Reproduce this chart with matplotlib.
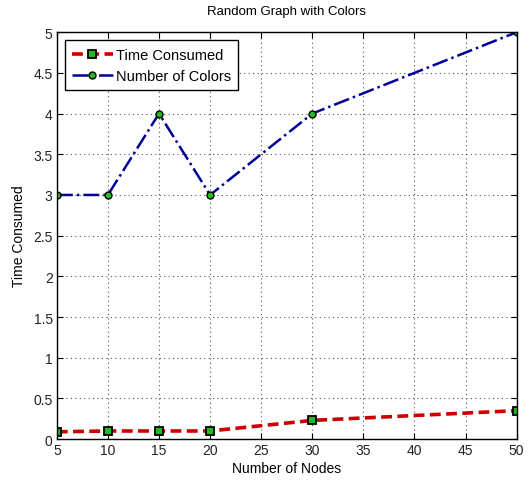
import matplotlib
matplotlib.use("Agg")
import matplotlib.pyplot as plt

nodes = [5, 10, 15, 20, 30, 50]
time_consumed = [0.09, 0.10, 0.10, 0.10, 0.23, 0.35]
num_colors = [3, 3, 4, 3, 4, 5]
xticks = [5, 10, 15, 20, 25, 30, 35, 40, 45, 50]
yticks = [0, 0.5, 1, 1.5, 2, 2.5, 3, 3.5, 4, 4.5, 5]
ytick_labels = ['0', '0.5', '1', '1.5', '2', '2.5', '3', '3.5', '4', '4.5', '5']

plt.rcParams['font.family'] = ['Liberation Sans', 'DejaVu Sans']
fig = plt.figure(figsize=(5.31, 4.81), dpi=100)
ax = fig.add_axes([0.107, 0.085, 0.866, 0.846])

ax.plot(nodes, time_consumed, color='#cc0000', linestyle='--', linewidth=2.6,
        marker='s', markersize=6, markerfacecolor='#22bb22', markeredgecolor='black',
        markeredgewidth=1.3, label='Time Consumed', dashes=(3, 1.5))
ax.plot(nodes, num_colors, color='#000099', linestyle='-.', linewidth=1.8,
        marker='o', markersize=5, markerfacecolor='#22bb22', markeredgecolor='black',
        markeredgewidth=1.0, label='Number of Colors')

ax.set_xlim(5, 50)
ax.set_ylim(0, 5)
ax.set_xticks(xticks)
ax.set_yticks(yticks)
ax.set_yticklabels(ytick_labels)
ax.grid(True, linestyle=(0, (1, 3)), color='#555555', linewidth=0.8)
ax.tick_params(direction='in', labelsize=10, length=4, top=True, right=True,
               labelcolor='#222222', pad=3)
for s in ax.spines.values():
    s.set_linewidth(1.0)
ax.set_title('Random Graph with Colors', fontsize=9.5, pad=13)
ax.set_xlabel('Number of Nodes', fontsize=10, labelpad=3)
ax.set_ylabel('Time Consumed', fontsize=10, labelpad=5)
leg = ax.legend(loc='upper left', fontsize=10.5, frameon=True, fancybox=False,
                edgecolor='black', handlelength=2.8, handletextpad=0.2,
                borderpad=0.5, labelspacing=0.5, framealpha=1,
                borderaxespad=0, bbox_to_anchor=(0.017, 0.98))
leg.get_frame().set_linewidth(1.0)

fig.savefig('out.png', dpi=100)
